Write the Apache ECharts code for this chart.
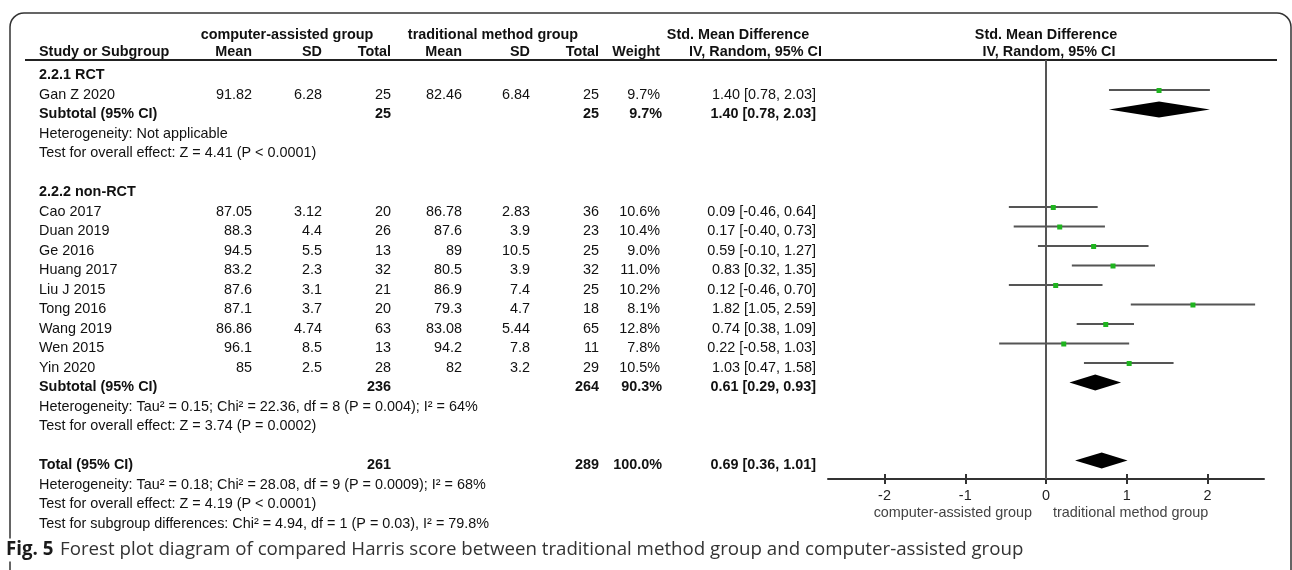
<!DOCTYPE html>
<html>
<head>
<meta charset="utf-8">
<script src="https://cdn.jsdelivr.net/npm/echarts@6/dist/echarts.min.js"></script>
<style>
    html, body { margin: 0; padding: 0; background: #fff; }
    #forest { width: 1292px; height: 570px; }
</style>
</head>
<body>
<div id="forest"></div>
<script>
// study rows
var studyNames = ['Gan Z 2020', 'Cao 2017', 'Duan 2019', 'Ge 2016', 'Huang 2017', 'Liu J 2015', 'Tong 2016', 'Wang 2019', 'Wen 2015', 'Yin 2020'];
var studyRows = [1, 7, 8, 9, 10, 11, 12, 13, 14, 15];
var caMean = [91.82, 87.05, 88.3, 94.5, 83.2, 87.6, 87.1, 86.86, 96.1, 85];
var caSD = [6.28, 3.12, 4.4, 5.5, 2.3, 3.1, 3.7, 4.74, 8.5, 2.5];
var caTotal = [25, 20, 26, 13, 32, 21, 20, 63, 13, 28];
var trMean = [82.46, 86.78, 87.6, 89, 80.5, 86.9, 79.3, 83.08, 94.2, 82];
var trSD = [6.84, 2.83, 3.9, 10.5, 3.9, 7.4, 4.7, 5.44, 7.8, 3.2];
var trTotal = [25, 36, 23, 25, 32, 25, 18, 65, 11, 29];
var weight = [9.7, 10.6, 10.4, 9.0, 11.0, 10.2, 8.1, 12.8, 7.8, 10.5];
var smd = [1.40, 0.09, 0.17, 0.59, 0.83, 0.12, 1.82, 0.74, 0.22, 1.03];
var ciLow = [0.78, -0.46, -0.40, -0.10, 0.32, -0.46, 1.05, 0.38, -0.58, 0.47];
var ciHigh = [2.03, 0.64, 0.73, 1.27, 1.35, 0.70, 2.59, 1.09, 1.03, 1.58];

// subtotal / total rows
var sumNames = ['Subtotal (95% CI)', 'Subtotal (95% CI)', 'Total (95% CI)'];
var sumRows = [2, 16, 20];
var sumCaTotal = [25, 236, 261];
var sumTrTotal = [25, 264, 289];
var sumWeight = [9.7, 90.3, 100.0];
var sumSmd = [1.40, 0.61, 0.69];
var sumLow = [0.78, 0.29, 0.36];
var sumHigh = [2.03, 0.93, 1.01];

var groupNames = ['2.2.1 RCT', '2.2.2 non-RCT'];
var groupRows = [0, 6];

var noteTexts = [
    'Heterogeneity: Not applicable',
    'Test for overall effect: Z = 4.41 (P < 0.0001)',
    'Heterogeneity: Tau\u00b2 = 0.15; Chi\u00b2 = 22.36, df = 8 (P = 0.004); I\u00b2 = 64%',
    'Test for overall effect: Z = 3.74 (P = 0.0002)',
    'Heterogeneity: Tau\u00b2 = 0.18; Chi\u00b2 = 28.08, df = 9 (P = 0.0009); I\u00b2 = 68%',
    'Test for overall effect: Z = 4.19 (P < 0.0001)',
    'Test for subgroup differences: Chi\u00b2 = 4.94, df = 1 (P = 0.03), I\u00b2 = 79.8%'
];
var noteRows = [3, 4, 17, 18, 21, 22, 23];

var xTicks = [-2, -1, 0, 1, 2];
var leftLabel = 'computer-assisted group';
var rightLabel = 'traditional method group';
var caption = 'Forest plot diagram of compared Harris score between traditional method group and computer-assisted group';
</script>
<script>
var FONT = '"Liberation Sans", Arial, sans-serif';
var FS = 14.4;
var chart = echarts.init(document.getElementById('forest'));

var ciData = studyRows.map(function (r, i) {
    return [ciLow[i], ciHigh[i], smd[i], r];
});
var diamondData = sumRows.map(function (r, i) {
    return [sumLow[i], sumHigh[i], sumSmd[i], r];
});

var option = {
    animation: false,
    grid: {left: 828, top: 60, width: 436, height: 419, outerBoundsMode: 'none'},
    xAxis: [
        {
            type: 'value', min: -2.7, max: 2.7, position: 'bottom',
            axisLine: {onZero: false, lineStyle: {color: '#333', width: 2}},
            axisTick: {customValues: xTicks, length: 5, lineStyle: {color: '#333', width: 2}},
            axisLabel: {customValues: xTicks, margin: 10, fontSize: FS, color: '#222', fontFamily: FONT},
            splitLine: {show: false}
        },
        {
            type: 'value', min: -2.7, max: 2.7, position: 'bottom',
            axisLine: {show: false, onZero: false},
            axisTick: {customValues: xTicks, inside: true, length: 5, lineStyle: {color: '#333', width: 2}},
            axisLabel: {show: false},
            splitLine: {show: false}
        }
    ],
    yAxis: {type: 'value', inverse: true, min: -0.54, max: 20.95, show: false},
    series: [
        {
            name: 'studies',
            type: 'custom',
            encode: {x: [0, 1, 2], y: 3},
            data: ciData,
            renderItem: function (params, api) {
                var a = api.coord([api.value(0), api.value(3)]);
                var b = api.coord([api.value(1), api.value(3)]);
                var m = api.coord([api.value(2), api.value(3)]);
                return {
                    type: 'group',
                    children: [
                        {type: 'line', shape: {x1: a[0], y1: a[1], x2: b[0], y2: b[1]}, style: {stroke: '#555', lineWidth: 2}},
                        {type: 'rect', shape: {x: m[0] - 2.5, y: m[1] - 2, width: 5, height: 5}, style: {fill: '#1fb41f'}}
                    ]
                };
            },
            markLine: {
                silent: true,
                symbol: 'none',
                label: {show: false},
                lineStyle: {color: '#555', width: 2, type: 'solid'},
                data: [{xAxis: 0}]
            },
            z: 3
        },
        {
            name: 'pooled',
            type: 'custom',
            encode: {x: [0, 1, 2], y: 3},
            data: diamondData,
            renderItem: function (params, api) {
                var a = api.coord([api.value(0), api.value(3)]);
                var b = api.coord([api.value(1), api.value(3)]);
                var m = api.coord([api.value(2), api.value(3)]);
                return {
                    type: 'polygon',
                    shape: {points: [[a[0], a[1]], [m[0], m[1] - 8], [b[0], b[1]], [m[0], m[1] + 8]]},
                    style: {fill: '#000'}
                };
            },
            z: 4
        }
    ]
};
chart.setOption(option);

// table text, positioned on the same row scale as the plot
function rowY(r) {
    return chart.convertToPixel({yAxisIndex: 0}, r) + 5;
}
function txt(s, x, y, align, bold) {
    return {
        type: 'text', x: x, y: y, silent: true,
        style: {
            text: s, fill: '#111',
            font: (bold ? 'bold ' : '') + FS + 'px ' + FONT,
            textAlign: align, textVerticalAlign: 'middle'
        }
    };
}

var colLeft = 39;
var colR = {caMean: 252, caSD: 322, caTotal: 391, trMean: 462, trSD: 530, trTotal: 599, weight: 660, ci: 816};
var x0 = chart.convertToPixel({xAxisIndex: 0}, 0);
var els = [];

// frame and header rule
els.push({type: 'rect', silent: true, shape: {x: 10, y: 13, width: 1281, height: 640, r: 14},
    style: {fill: 'none', stroke: '#333', lineWidth: 1.5}, z: 0});
els.push({type: 'line', silent: true, shape: {x1: 25, y1: 60, x2: 1277, y2: 60},
    style: {stroke: '#222', lineWidth: 2}});

// headers
els.push(txt('computer-assisted group', 287, 35, 'center', true));
els.push(txt('traditional method group', 493, 35, 'center', true));
els.push(txt('Std. Mean Difference', 738, 35, 'center', true));
els.push(txt('Std. Mean Difference', x0, 35, 'center', true));
els.push(txt('Study or Subgroup', colLeft, 52, 'left', true));
els.push(txt('Mean', colR.caMean, 52, 'right', true));
els.push(txt('SD', colR.caSD, 52, 'right', true));
els.push(txt('Total', colR.caTotal, 52, 'right', true));
els.push(txt('Mean', colR.trMean, 52, 'right', true));
els.push(txt('SD', colR.trSD, 52, 'right', true));
els.push(txt('Total', colR.trTotal, 52, 'right', true));
els.push(txt('Weight', colR.weight, 52, 'right', true));
els.push(txt('IV, Random, 95% CI', 822, 52, 'right', true));
els.push(txt('IV, Random, 95% CI', x0 + 3, 52, 'center', true));

groupRows.forEach(function (r, i) {
    els.push(txt(groupNames[i], colLeft, rowY(r), 'left', true));
});

studyRows.forEach(function (r, i) {
    var y = rowY(r);
    els.push(txt(studyNames[i], colLeft, y, 'left', false));
    els.push(txt(String(caMean[i]), colR.caMean, y, 'right', false));
    els.push(txt(String(caSD[i]), colR.caSD, y, 'right', false));
    els.push(txt(String(caTotal[i]), colR.caTotal, y, 'right', false));
    els.push(txt(String(trMean[i]), colR.trMean, y, 'right', false));
    els.push(txt(String(trSD[i]), colR.trSD, y, 'right', false));
    els.push(txt(String(trTotal[i]), colR.trTotal, y, 'right', false));
    els.push(txt(weight[i].toFixed(1) + '%', colR.weight, y, 'right', false));
    els.push(txt(smd[i].toFixed(2) + ' [' + ciLow[i].toFixed(2) + ', ' + ciHigh[i].toFixed(2) + ']', colR.ci, y, 'right', false));
});

sumRows.forEach(function (r, i) {
    var y = rowY(r);
    els.push(txt(sumNames[i], colLeft, y, 'left', true));
    els.push(txt(String(sumCaTotal[i]), colR.caTotal, y, 'right', true));
    els.push(txt(String(sumTrTotal[i]), colR.trTotal, y, 'right', true));
    els.push(txt(sumWeight[i].toFixed(1) + '%', colR.weight + 2, y, 'right', true));
    els.push(txt(sumSmd[i].toFixed(2) + ' [' + sumLow[i].toFixed(2) + ', ' + sumHigh[i].toFixed(2) + ']', colR.ci, y, 'right', true));
});

noteRows.forEach(function (r, i) {
    els.push(txt(noteTexts[i], colLeft, rowY(r), 'left', false));
});

// axis side labels
var subY = 513;
var lt = txt(leftLabel, x0 - 14, subY, 'right', false);
lt.style.fill = '#444';
var rt = txt(rightLabel, x0 + 7, subY, 'left', false);
rt.style.fill = '#444';
els.push(lt, rt);

// figure caption
els.push({
    type: 'text', x: 6, y: 550, silent: true, z: 10,
    style: {
        text: '{b|Fig. 5}  {n|' + caption + '}',
        textVerticalAlign: 'middle',
        backgroundColor: '#fff',
        padding: [2, 0, 2, 0],
        rich: {
            b: {fontFamily: '"Open Sans", sans-serif', fontWeight: 'bold', fontSize: 18.7, fill: '#1a1a1a'},
            n: {fontFamily: '"Open Sans", sans-serif', fontSize: 18.7, fill: '#333'}
        }
    }
});

chart.setOption({graphic: {elements: els}});

window.addEventListener('resize', function () {
    chart.resize();
});
</script>
</body>
</html>
